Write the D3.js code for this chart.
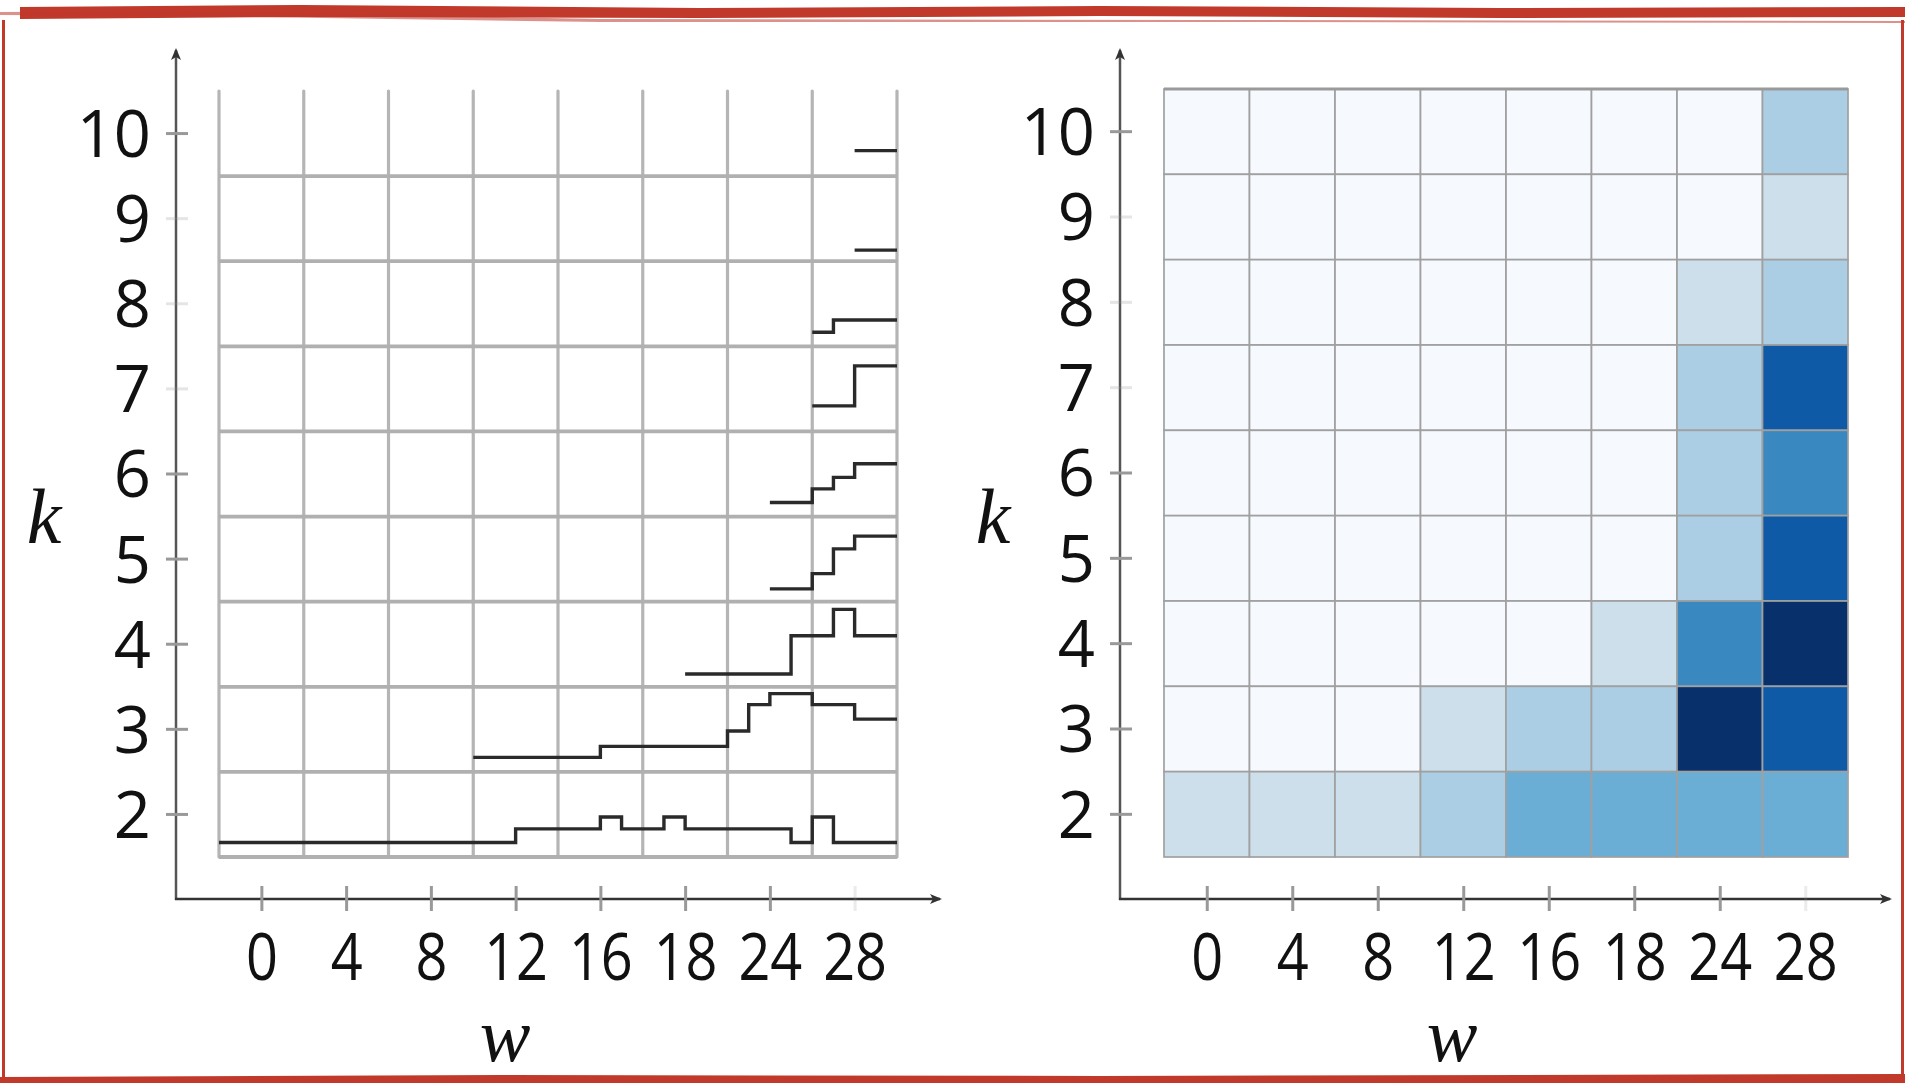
<!DOCTYPE html>
<html>
<head>
<meta charset="utf-8">
<style>
  body { margin: 0; background: #fff; }
  svg text { font-family: "Open Sans", "Noto Sans", sans-serif; }
</style>
</head>
<body>
<svg id="chart" width="1905" height="1083"></svg>
<script src="https://cdn.jsdelivr.net/npm/d3@7"></script>
<script>
// rows (k) from top to bottom and the w ticks
var kValues = [10, 9, 8, 7, 6, 5, 4, 3, 2];
var wTicks = [0, 4, 8, 12, 16, 20, 24, 28];
var wTickLabels = ["0", "4", "8", "12", "16", "18", "24", "28"];

// step lines of the left panel: [w where the step starts, height inside the row 0..1]
var steps10 = [[28, 0.30], [30, 0.30]];
var steps9 = [[28, 0.13], [30, 0.13]];
var steps8 = [[26, 0.165], [27, 0.31], [30, 0.31]];
var steps7 = [[26, 0.30], [28, 0.77], [30, 0.77]];
var steps6 = [[24, 0.165], [26, 0.325], [27, 0.46], [28, 0.62], [30, 0.62]];
var steps5 = [[24, 0.15], [26, 0.33], [27, 0.62], [28, 0.77], [30, 0.77]];
var steps4 = [[20, 0.15], [25, 0.60], [27, 0.91], [28, 0.60], [30, 0.60]];
var steps3 = [[10, 0.17], [16, 0.30], [22, 0.48], [23, 0.79], [24, 0.92], [26, 0.79], [28, 0.62], [30, 0.62]];
var steps2 = [[-2, 0.17], [12, 0.33], [16, 0.47], [17, 0.33], [19, 0.47], [20, 0.33], [25, 0.17], [26, 0.47], [27, 0.17], [30, 0.17]];
var stepSeries = [steps10, steps9, steps8, steps7, steps6, steps5, steps4, steps3, steps2];

// heatmap levels of the right panel, one row per k (10 .. 2), one column per w tick
var heatLevels = [
  [0, 0, 0, 0, 0, 0, 0, 2],
  [0, 0, 0, 0, 0, 0, 0, 1],
  [0, 0, 0, 0, 0, 0, 1, 2],
  [0, 0, 0, 0, 0, 0, 2, 5],
  [0, 0, 0, 0, 0, 0, 2, 4],
  [0, 0, 0, 0, 0, 0, 2, 5],
  [0, 0, 0, 0, 0, 1, 4, 6],
  [0, 0, 0, 1, 2, 2, 6, 5],
  [1, 1, 1, 2, 3, 3, 3, 3]
];
var bluePalette = ["#f6faff", "#cddfea", "#abcee4", "#6aaed6", "#3a88c0", "#0f5aa6", "#08306b"];

var W = 1905, H = 1083;
var svg = d3.select("svg#chart");

svg.append("rect")
    .attr("width", W)
    .attr("height", H)
    .attr("fill", "white");

var defs = svg.append("defs");
defs.append("marker")
    .attr("id", "arrow")
    .attr("viewBox", "0 0 12 10")
    .attr("refX", 10).attr("refY", 5)
    .attr("markerWidth", 12).attr("markerHeight", 10)
    .attr("markerUnits", "userSpaceOnUse")
    .attr("orient", "auto")
    .append("path")
    .attr("d", "M0,0 L12,5 L0,10 L3,5 Z")
    .attr("fill", "#333");

var color = d3.scaleOrdinal()
    .domain(d3.range(bluePalette.length))
    .range(bluePalette);

var axisY = 899;     // x axis position for both panels
var gridBottom = 857;
var faintK = [9, 8, 7];

function makeScales(left, right, top) {
  var x = d3.scaleLinear().domain([-2, 30]).range([left, right]);
  var y = d3.scaleBand().domain(kValues).range([top, gridBottom]).padding(0);
  return { x: x, y: y };
}

function drawAxes(g, s, axisX, axisEnd, kLabelX, wLabelX) {
  // axis lines with arrows
  g.append("line")
      .attr("x1", axisX).attr("y1", axisY + 1)
      .attr("x2", axisX).attr("y2", 50)
      .attr("stroke", "#555").attr("stroke-width", 2.5)
      .attr("marker-end", "url(#arrow)");
  g.append("line")
      .attr("x1", axisX - 1).attr("y1", axisY)
      .attr("x2", axisEnd).attr("y2", axisY)
      .attr("stroke", "#333").attr("stroke-width", 2.5)
      .attr("marker-end", "url(#arrow)");

  // k axis
  var yAxis = g.append("g")
      .attr("transform", "translate(" + axisX + ",0)")
      .call(d3.axisLeft(s.y).tickSize(10).tickPadding(0));
  yAxis.select(".domain").remove();
  yAxis.selectAll(".tick line")
      .attr("x1", -10).attr("x2", 12)
      .attr("stroke", "#999").attr("stroke-width", 3)
      .attr("opacity", function(d) { return faintK.indexOf(d) >= 0 ? 0.25 : 1; });
  yAxis.selectAll(".tick text")
      .attr("x", -25)
      .attr("dy", "0.36em")
      .style("font-size", "65px")
      .attr("fill", "#111");

  // w axis (labels squeezed a little, as in the original)
  var xAxis = g.append("g")
      .attr("transform", "translate(0," + axisY + ")")
      .call(d3.axisBottom(s.x)
        .tickValues(wTicks)
        .tickFormat(function(d, i) { return wTickLabels[i]; }));
  xAxis.select(".domain").remove();
  xAxis.selectAll(".tick line")
      .attr("y1", -13).attr("y2", 12)
      .attr("stroke", "#999").attr("stroke-width", 3)
      .attr("opacity", function(d) { return d === 28 ? 0.2 : 1; });
  xAxis.selectAll(".tick text")
      .attr("y", 0)
      .attr("dy", 0)
      .attr("transform", "translate(0,81) scale(0.86,1)")
      .style("font-size", "65px")
      .attr("fill", "#111");

  // axis titles
  g.append("text")
      .attr("x", kLabelX).attr("y", 543)
      .attr("text-anchor", "middle")
      .style("font-family", "'Liberation Serif', serif")
      .style("font-style", "italic")
      .style("font-size", "78px")
      .attr("fill", "#111")
      .text("k");
  g.append("text")
      .attr("x", wLabelX).attr("y", 1061)
      .attr("text-anchor", "middle")
      .style("font-family", "'Liberation Serif', serif")
      .style("font-style", "italic")
      .style("font-size", "76px")
      .attr("fill", "#111")
      .text("w");
}

//////////////////////// left panel: step lines ////////////////////////
var left = svg.append("g").attr("id", "steps");
var sL = makeScales(219, 897, 91);
var bw = sL.y.bandwidth();
var colEdges = d3.range(-2, 31, 4);

left.selectAll("line.vgrid")
  .data(colEdges)
  .enter().append("line")
    .attr("class", "vgrid")
    .attr("x1", function(d) { return sL.x(d); })
    .attr("x2", function(d) { return sL.x(d); })
    .attr("y1", sL.y.range()[0])
    .attr("y2", gridBottom)
    .attr("stroke", "#b5b5b5").attr("stroke-width", 3.2)
    .attr("stroke-linecap", "round");

left.selectAll("line.hgrid")
  .data(kValues)
  .enter().append("line")
    .attr("class", "hgrid")
    .attr("x1", sL.x(-2))
    .attr("x2", sL.x(30))
    .attr("y1", function(d) { return sL.y(d) + bw; })
    .attr("y2", function(d) { return sL.y(d) + bw; })
    .attr("stroke", "#b0b0b0").attr("stroke-width", 3.8);

var stepLine = function(k) {
  return d3.line()
    .x(function(d) { return sL.x(d[0]); })
    .y(function(d) { return sL.y(k) + bw * (1 - d[1]); })
    .curve(d3.curveStepAfter);
};

left.selectAll("path.step")
  .data(stepSeries)
  .enter().append("path")
    .attr("class", "step")
    .attr("d", function(d, i) { return stepLine(kValues[i])(d); })
    .attr("fill", "none")
    .attr("stroke", "#2a2a2a")
    .attr("stroke-width", 3.4);

drawAxes(left, sL, 176, 940, 44, 505);

//////////////////////// right panel: heatmap ////////////////////////
var right = svg.append("g").attr("id", "heat");
var sR = makeScales(1164, 1848, 89);
var bwR = sR.y.bandwidth();

var cells = [];
heatLevels.forEach(function(row, ri) {
  row.forEach(function(level, ci) {
    cells.push({ k: kValues[ri], w: wTicks[ci], level: level });
  });
});

right.selectAll("rect.cell")
  .data(cells)
  .enter().append("rect")
    .attr("class", "cell")
    .attr("x", function(d) { return sR.x(d.w - 2); })
    .attr("y", function(d) { return sR.y(d.k); })
    .attr("width", sR.x(4) - sR.x(0))
    .attr("height", bwR)
    .attr("fill", function(d) { return color(d.level); })
    .attr("stroke", "#a0a0a0")
    .attr("stroke-width", 1.7);

right.append("line")
    .attr("x1", sR.x(-2)).attr("x2", sR.x(30))
    .attr("y1", sR.y.range()[0]).attr("y2", sR.y.range()[0])
    .attr("stroke", "#9a9a9a").attr("stroke-width", 3);

drawAxes(right, sR, 1120, 1890, 993, 1452);

//////////////////////// red brush frame ////////////////////////
var frame = svg.append("g").attr("id", "frame");
frame.append("path")
    .attr("d", "M20,7 L300,5 L700,8 L1100,6 L1500,8 L1905,7 L1905,17 L1500,18 L1100,16 L700,18 L300,17 L20,19 Z")
    .attr("fill", "#c0392b");
frame.append("path")
    .attr("d", "M0,12 L180,11 L600,19 L1200,20 L1905,21 L1905,23 L1200,22 L600,22 L180,16 L0,15 Z")
    .attr("fill", "#c0392b").attr("opacity", 0.55);
frame.append("rect")
    .attr("x", 2).attr("y", 20).attr("width", 3).attr("height", 1063)
    .attr("fill", "#c0392b");
frame.append("rect")
    .attr("x", 1901).attr("y", 20).attr("width", 3).attr("height", 1063)
    .attr("fill", "#c0392b");
frame.append("path")
    .attr("d", "M0,1077 L500,1075 L1100,1076 L1905,1074 L1905,1083 L0,1083 Z")
    .attr("fill", "#c0392b");
</script>
</body>
</html>
